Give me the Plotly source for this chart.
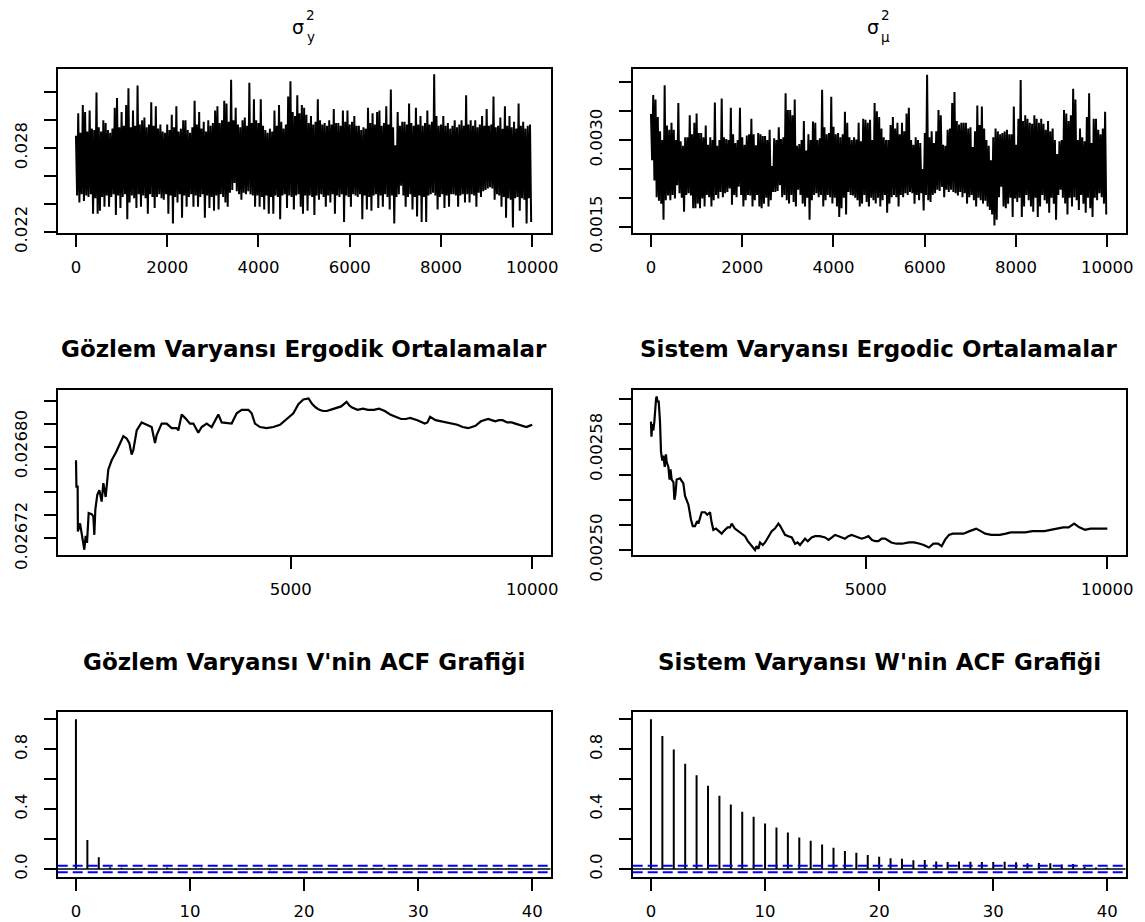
import plotly.graph_objects as go

W, H = 1145, 922

# ---------------- data ----------------
trace_start = 1
trace_step = 50  # iterations between successive (high, low) readings of the trace band

# sigma^2_y trace: per-window highs / lows
sigy_hi = [
    0.0289, 0.0305, 0.0291, 0.0311, 0.0306, 0.0292, 0.0307, 0.0294, 0.0293, 0.0320,
    0.0295, 0.0292, 0.0300, 0.0298, 0.0293, 0.0291, 0.0294, 0.0309, 0.0316, 0.0295,
    0.0306, 0.0296, 0.0311, 0.0323, 0.0295, 0.0307, 0.0296, 0.0325, 0.0297, 0.0300,
    0.0302, 0.0295, 0.0297, 0.0313, 0.0296, 0.0310, 0.0294, 0.0297, 0.0292, 0.0291,
    0.0297, 0.0293, 0.0304, 0.0295, 0.0310, 0.0292, 0.0294, 0.0300, 0.0300, 0.0293,
    0.0291, 0.0295, 0.0314, 0.0297, 0.0306, 0.0294, 0.0299, 0.0292, 0.0300, 0.0296,
    0.0298, 0.0307, 0.0310, 0.0298, 0.0300, 0.0314, 0.0312, 0.0299, 0.0329, 0.0300,
    0.0309, 0.0297, 0.0295, 0.0300, 0.0302, 0.0296, 0.0327, 0.0298, 0.0315, 0.0300,
    0.0298, 0.0315, 0.0296, 0.0293, 0.0291, 0.0294, 0.0292, 0.0307, 0.0296, 0.0311,
    0.0299, 0.0294, 0.0297, 0.0317, 0.0328, 0.0306, 0.0303, 0.0318, 0.0305, 0.0311,
    0.0309, 0.0304, 0.0298, 0.0303, 0.0297, 0.0299, 0.0315, 0.0300, 0.0297, 0.0298,
    0.0296, 0.0300, 0.0297, 0.0308, 0.0298, 0.0298, 0.0296, 0.0307, 0.0299, 0.0307,
    0.0297, 0.0299, 0.0303, 0.0296, 0.0296, 0.0293, 0.0295, 0.0294, 0.0309, 0.0298,
    0.0305, 0.0297, 0.0306, 0.0307, 0.0296, 0.0298, 0.0310, 0.0297, 0.0322, 0.0295,
    0.0282, 0.0306, 0.0296, 0.0299, 0.0299, 0.0297, 0.0312, 0.0298, 0.0296, 0.0309,
    0.0297, 0.0303, 0.0296, 0.0298, 0.0307, 0.0297, 0.0299, 0.0333, 0.0303, 0.0296,
    0.0297, 0.0303, 0.0296, 0.0298, 0.0294, 0.0296, 0.0300, 0.0295, 0.0297, 0.0300,
    0.0296, 0.0318, 0.0297, 0.0300, 0.0296, 0.0300, 0.0295, 0.0297, 0.0303, 0.0296,
    0.0308, 0.0296, 0.0297, 0.0317, 0.0295, 0.0296, 0.0302, 0.0294, 0.0310, 0.0296,
    0.0303, 0.0295, 0.0299, 0.0294, 0.0312, 0.0296, 0.0299, 0.0294, 0.0296, 0.0297,
]
sigy_lo = [
    0.0246, 0.0241, 0.0247, 0.0242, 0.0246, 0.0245, 0.0247, 0.0233, 0.0244, 0.0233,
    0.0235, 0.0245, 0.0238, 0.0246, 0.0238, 0.0245, 0.0247, 0.0232, 0.0246, 0.0237,
    0.0245, 0.0247, 0.0229, 0.0241, 0.0246, 0.0244, 0.0237, 0.0247, 0.0238, 0.0246,
    0.0244, 0.0233, 0.0247, 0.0245, 0.0237, 0.0245, 0.0247, 0.0244, 0.0243, 0.0247,
    0.0233, 0.0246, 0.0226, 0.0245, 0.0241, 0.0247, 0.0230, 0.0246, 0.0238, 0.0245,
    0.0247, 0.0238, 0.0246, 0.0238, 0.0245, 0.0247, 0.0230, 0.0246, 0.0237, 0.0245,
    0.0235, 0.0246, 0.0236, 0.0247, 0.0245, 0.0241, 0.0238, 0.0248, 0.0250, 0.0255,
    0.0249, 0.0247, 0.0243, 0.0248, 0.0247, 0.0249, 0.0247, 0.0246, 0.0238, 0.0246,
    0.0238, 0.0245, 0.0236, 0.0246, 0.0233, 0.0245, 0.0233, 0.0246, 0.0245, 0.0229,
    0.0246, 0.0247, 0.0237, 0.0246, 0.0245, 0.0236, 0.0246, 0.0247, 0.0238, 0.0233,
    0.0246, 0.0235, 0.0246, 0.0245, 0.0232, 0.0246, 0.0243, 0.0247, 0.0245, 0.0238,
    0.0246, 0.0241, 0.0247, 0.0233, 0.0246, 0.0245, 0.0247, 0.0227, 0.0246, 0.0245,
    0.0238, 0.0247, 0.0246, 0.0245, 0.0247, 0.0229, 0.0246, 0.0236, 0.0245, 0.0235,
    0.0246, 0.0247, 0.0237, 0.0246, 0.0238, 0.0247, 0.0245, 0.0236, 0.0246, 0.0226,
    0.0245, 0.0247, 0.0253, 0.0246, 0.0238, 0.0245, 0.0247, 0.0236, 0.0245, 0.0231,
    0.0246, 0.0227, 0.0245, 0.0227, 0.0246, 0.0247, 0.0248, 0.0246, 0.0236, 0.0245,
    0.0247, 0.0237, 0.0246, 0.0238, 0.0247, 0.0247, 0.0246, 0.0238, 0.0246, 0.0247,
    0.0241, 0.0247, 0.0241, 0.0247, 0.0246, 0.0238, 0.0248, 0.0245, 0.0249, 0.0250,
    0.0251, 0.0252, 0.0251, 0.0243, 0.0247, 0.0246, 0.0238, 0.0245, 0.0230, 0.0244,
    0.0243, 0.0223, 0.0244, 0.0245, 0.0235, 0.0244, 0.0243, 0.0226, 0.0244, 0.0227,
]

# sigma^2_mu trace
sigmu_hi = [
    0.00345, 0.00378, 0.00370, 0.00340, 0.00315, 0.00300, 0.00395, 0.00325, 0.00318, 0.00330,
    0.00318, 0.00300, 0.00364, 0.00298, 0.00290, 0.00305, 0.00305, 0.00343, 0.00310, 0.00330,
    0.00346, 0.00312, 0.00312, 0.00305, 0.00325, 0.00292, 0.00305, 0.00300, 0.00365, 0.00290,
    0.00300, 0.00372, 0.00305, 0.00302, 0.00300, 0.00356, 0.00310, 0.00295, 0.00300, 0.00356,
    0.00305, 0.00292, 0.00308, 0.00310, 0.00337, 0.00310, 0.00291, 0.00312, 0.00310, 0.00307,
    0.00307, 0.00300, 0.00318, 0.00255, 0.00303, 0.00300, 0.00322, 0.00302, 0.00305, 0.00381,
    0.00352, 0.00352, 0.00343, 0.00370, 0.00290, 0.00293, 0.00300, 0.00333, 0.00282, 0.00310,
    0.00300, 0.00332, 0.00330, 0.00300, 0.00303, 0.00387, 0.00322, 0.00310, 0.00312, 0.00375,
    0.00323, 0.00310, 0.00312, 0.00305, 0.00310, 0.00349, 0.00330, 0.00305, 0.00300, 0.00305,
    0.00301, 0.00330, 0.00298, 0.00337, 0.00335, 0.00330, 0.00335, 0.00300, 0.00364, 0.00350,
    0.00340, 0.00320, 0.00305, 0.00300, 0.00300, 0.00326, 0.00340, 0.00320, 0.00330, 0.00310,
    0.00330, 0.00315, 0.00346, 0.00356, 0.00300, 0.00292, 0.00305, 0.00300, 0.00295, 0.00250,
    0.00312, 0.00413, 0.00305, 0.00315, 0.00295, 0.00315, 0.00352, 0.00343, 0.00292, 0.00290,
    0.00318, 0.00320, 0.00364, 0.00383, 0.00333, 0.00327, 0.00330, 0.00330, 0.00330, 0.00320,
    0.00322, 0.00288, 0.00315, 0.00360, 0.00326, 0.00358, 0.00320, 0.00300, 0.00290, 0.00265,
    0.00305, 0.00320, 0.00315, 0.00310, 0.00312, 0.00315, 0.00318, 0.00310, 0.00310, 0.00358,
    0.00292, 0.00337, 0.00404, 0.00333, 0.00343, 0.00337, 0.00330, 0.00328, 0.00343, 0.00337,
    0.00330, 0.00337, 0.00328, 0.00318, 0.00333, 0.00315, 0.00320, 0.00300, 0.00276, 0.00298,
    0.00300, 0.00352, 0.00346, 0.00333, 0.00343, 0.00389, 0.00370, 0.00300, 0.00320, 0.00305,
    0.00298, 0.00340, 0.00381, 0.00295, 0.00337, 0.00337, 0.00318, 0.00310, 0.00320, 0.00349,
]
sigmu_lo = [
    0.00265, 0.00230, 0.00201, 0.00195, 0.00190, 0.00162, 0.00196, 0.00204, 0.00196, 0.00205,
    0.00199, 0.00222, 0.00208, 0.00200, 0.00176, 0.00205, 0.00208, 0.00204, 0.00182, 0.00182,
    0.00190, 0.00182, 0.00199, 0.00185, 0.00205, 0.00201, 0.00185, 0.00196, 0.00205, 0.00199,
    0.00210, 0.00201, 0.00208, 0.00210, 0.00216, 0.00188, 0.00205, 0.00201, 0.00219, 0.00205,
    0.00185, 0.00196, 0.00205, 0.00204, 0.00185, 0.00196, 0.00205, 0.00185, 0.00182, 0.00190,
    0.00200, 0.00185, 0.00196, 0.00210, 0.00210, 0.00212, 0.00222, 0.00201, 0.00205, 0.00196,
    0.00190, 0.00205, 0.00193, 0.00185, 0.00214, 0.00205, 0.00190, 0.00185, 0.00200, 0.00162,
    0.00196, 0.00205, 0.00208, 0.00201, 0.00205, 0.00185, 0.00196, 0.00205, 0.00201, 0.00190,
    0.00200, 0.00185, 0.00167, 0.00182, 0.00200, 0.00171, 0.00210, 0.00205, 0.00204, 0.00200,
    0.00196, 0.00185, 0.00190, 0.00205, 0.00193, 0.00185, 0.00200, 0.00196, 0.00190, 0.00200,
    0.00185, 0.00196, 0.00205, 0.00174, 0.00190, 0.00201, 0.00205, 0.00201, 0.00185, 0.00205,
    0.00201, 0.00208, 0.00205, 0.00210, 0.00208, 0.00190, 0.00205, 0.00196, 0.00208, 0.00178,
    0.00205, 0.00196, 0.00193, 0.00205, 0.00208, 0.00214, 0.00212, 0.00219, 0.00201, 0.00214,
    0.00210, 0.00214, 0.00210, 0.00208, 0.00204, 0.00210, 0.00201, 0.00208, 0.00190, 0.00201,
    0.00205, 0.00196, 0.00185, 0.00200, 0.00196, 0.00190, 0.00195, 0.00185, 0.00179, 0.00171,
    0.00152, 0.00162, 0.00201, 0.00219, 0.00185, 0.00182, 0.00190, 0.00200, 0.00167, 0.00199,
    0.00193, 0.00200, 0.00167, 0.00185, 0.00205, 0.00196, 0.00185, 0.00176, 0.00200, 0.00167,
    0.00185, 0.00205, 0.00196, 0.00190, 0.00174, 0.00200, 0.00190, 0.00162, 0.00205, 0.00214,
    0.00200, 0.00190, 0.00171, 0.00200, 0.00185, 0.00201, 0.00196, 0.00179, 0.00205, 0.00190,
    0.00174, 0.00200, 0.00182, 0.00167, 0.00200, 0.00196, 0.00208, 0.00201, 0.00190, 0.00171,
]

# ergodic (running) means
erg_obs_iter = [
    556, 565, 590, 595, 639, 673, 694, 728, 756, 784, 818, 880, 915, 935, 956, 997, 1039, 1087,
    1122, 1170, 1225, 1294, 1384, 1467, 1536, 1605, 1660, 1708, 1743, 1812, 1915, 2019, 2122,
    2191, 2226, 2329, 2433, 2536, 2640, 2674, 2743, 2812, 2916, 2985, 3088, 3157, 3261, 3364,
    3502, 3571, 3709, 3778, 3882, 3986, 4124, 4192, 4261, 4365, 4503, 4641, 4779, 4951, 5055,
    5159, 5262, 5369, 5445, 5520, 5594, 5670, 5745, 5820, 5894, 5970, 6045, 6157, 6210, 6271,
    6383, 6496, 6600, 6722, 6830, 6948, 7059, 7171, 7285, 7380, 7473, 7623, 7774, 7830, 7885,
    7999, 8110, 8225, 8340, 8450, 8560, 8674, 8750, 8825, 8937, 9010, 9088, 9160, 9239, 9310,
    9388, 9480, 9577, 9650, 9727, 9800, 9877, 9940, 10000,
]
erg_obs_mean = [
    0.026788, 0.026765, 0.026765, 0.026726, 0.026733, 0.026724, 0.026716, 0.026710, 0.026722,
    0.026716, 0.026742, 0.026741, 0.026739, 0.026723, 0.026745, 0.026758, 0.026762, 0.026752,
    0.026768, 0.026756, 0.026780, 0.026788, 0.026795, 0.026803, 0.026809, 0.026807, 0.026803,
    0.026793, 0.026797, 0.026814, 0.026821, 0.026819, 0.026817, 0.026803, 0.026810, 0.026820,
    0.026820, 0.026816, 0.026816, 0.026814, 0.026828, 0.026825, 0.026820, 0.026820, 0.026812,
    0.026817, 0.026820, 0.026817, 0.026828, 0.026821, 0.026820, 0.026820, 0.026829, 0.026832,
    0.026832, 0.026829, 0.026820, 0.026817, 0.026816, 0.026817, 0.026819, 0.026825, 0.026829,
    0.026837, 0.026841, 0.026842, 0.026837, 0.026834, 0.026832, 0.026831, 0.026831, 0.026832,
    0.026833, 0.026834, 0.026835, 0.026839, 0.026836, 0.026834, 0.026832, 0.026833, 0.026832,
    0.026832, 0.026833, 0.026831, 0.026828, 0.026826, 0.026824, 0.026824, 0.026825, 0.026823,
    0.026820, 0.026821, 0.026826, 0.026823, 0.026822, 0.026821, 0.026820, 0.026819, 0.026817,
    0.026816, 0.026817, 0.026818, 0.026822, 0.026823, 0.026824, 0.026823, 0.026822, 0.026823,
    0.026823, 0.026821, 0.026821, 0.026820, 0.026819, 0.026818, 0.026817, 0.026818, 0.026819,
]
erg_sys_iter = [
    555, 565, 580, 604, 625, 639, 660, 673, 690, 715, 742, 763, 790, 811, 840, 865, 880, 915,
    940, 960, 984, 1020, 1040, 1060, 1087, 1156, 1225, 1260, 1294, 1330, 1384, 1420, 1467,
    1510, 1536, 1580, 1605, 1640, 1674, 1720, 1777, 1810, 1846, 1900, 1950, 2019, 2060, 2088,
    2140, 2191, 2226, 2290, 2364, 2430, 2502, 2560, 2605, 2660, 2709, 2740, 2780, 2812, 2870,
    2916, 2985, 3054, 3120, 3192, 3230, 3261, 3300, 3330, 3400, 3470, 3537, 3590, 3640, 3700,
    3744, 3800, 3880, 3951, 4050, 4158, 4230, 4300, 4365, 4440, 4500, 4570, 4640, 4710, 4780,
    4850, 4917, 4990, 5055, 5130, 5200, 5262, 5330, 5400, 5450, 5530, 5632, 5750, 5894, 6000,
    6120, 6200, 6308, 6400, 6496, 6571, 6640, 6722, 6800, 6900, 7022, 7150, 7285, 7380, 7473,
    7600, 7774, 7900, 8000, 8150, 8300, 8450, 8563, 8700, 8825, 8950, 9088, 9200, 9313, 9420,
    9539, 9650, 9802, 9900, 10000,
]
erg_sys_mean = [
    0.002602, 0.002590, 0.002600, 0.002595, 0.002602, 0.002614, 0.002620, 0.002622, 0.002618,
    0.002618, 0.002602, 0.002578, 0.002571, 0.002575, 0.002566, 0.002576, 0.002570, 0.002566,
    0.002556, 0.002564, 0.002556, 0.002554, 0.002540, 0.002544, 0.002556, 0.002557, 0.002553,
    0.002543, 0.002539, 0.002536, 0.002524, 0.002519, 0.002519, 0.002523, 0.002521, 0.002527,
    0.002530, 0.002530, 0.002530, 0.002528, 0.002530, 0.002522, 0.002516, 0.002517, 0.002515,
    0.002513, 0.002515, 0.002516, 0.002518, 0.002518, 0.002521, 0.002517, 0.002515, 0.002513,
    0.002511, 0.002507, 0.002505, 0.002503, 0.002500, 0.002503, 0.002501, 0.002506, 0.002504,
    0.002506, 0.002510, 0.002515, 0.002517, 0.002521, 0.002519, 0.002517, 0.002514, 0.002512,
    0.002511, 0.002510, 0.002505, 0.002506, 0.002504, 0.002507, 0.002509, 0.002507, 0.002510,
    0.002511, 0.002511, 0.002510, 0.002508, 0.002510, 0.002512, 0.002511, 0.002510, 0.002509,
    0.002511, 0.002512, 0.002511, 0.002510, 0.002509, 0.002510, 0.002511, 0.002508, 0.002507,
    0.002507, 0.002509, 0.002509, 0.002508, 0.002506, 0.002505, 0.002505, 0.002506, 0.002506,
    0.002505, 0.002504, 0.002502, 0.002505, 0.002505, 0.002503, 0.002508, 0.002512, 0.002513,
    0.002513, 0.002513, 0.002515, 0.002517, 0.002515, 0.002513, 0.002512, 0.002512, 0.002513,
    0.002514, 0.002514, 0.002514, 0.002515, 0.002515, 0.002515, 0.002516, 0.002517, 0.002518,
    0.002518, 0.002521, 0.002518, 0.002516, 0.002517, 0.002517, 0.002517, 0.002517,
]

# autocorrelations
acf_lags = list(range(0, 41))
acf_obs = [1.0, 0.193, 0.078, 0.012, 0.008, -0.005, 0.006, -0.004, 0.010, -0.006, 0.004,
           0.008, -0.004, 0.003, -0.006, -0.003, 0.002, -0.008, -0.006, 0.004, -0.003, 0.002,
           0.004, -0.007, -0.004, 0.003, 0.006, 0.009, 0.006, -0.004, 0.003, 0.004, -0.007,
           0.003, 0.005, -0.006, 0.002, 0.003, 0.004, -0.006, -0.005]
acf_sys = [1.0, 0.889, 0.798, 0.704, 0.627, 0.556, 0.489, 0.431, 0.382, 0.349, 0.304, 0.278,
           0.244, 0.211, 0.189, 0.164, 0.142, 0.120, 0.109, 0.093, 0.082, 0.072, 0.068, 0.058,
           0.060, 0.050, 0.046, 0.050, 0.049, 0.046, 0.047, 0.048, 0.045, 0.038, 0.040, 0.038,
           0.030, 0.034, 0.014, 0.010, 0.008]
acf_ci = 0.022

# tick values / labels
trace_xticks = [0, 2000, 4000, 6000, 8000, 10000]
erg_xticks = [5000, 10000]
acf_xticks = [0, 10, 20, 30, 40]
sigy_yticks = [0.022, 0.024, 0.026, 0.028, 0.030, 0.032]
sigy_ylabels = ["0.022", "", "", "0.028", "", ""]
sigmu_yticks = [0.0015, 0.0020, 0.0025, 0.0030, 0.0035, 0.0040]
sigmu_ylabels = ["0.0015", "", "", "0.0030", "", ""]
ergobs_yticks = [0.02672, 0.02674, 0.02676, 0.02678, 0.02680, 0.02682, 0.02684]
ergobs_ylabels = ["0.02672", "", "", "", "0.02680", "", ""]
ergsys_yticks = [0.00250, 0.00252, 0.00254, 0.00256, 0.00258, 0.00260, 0.00262]
ergsys_ylabels = ["0.00250", "", "", "", "0.00258", "", ""]
acf_yticks = [0.0, 0.2, 0.4, 0.6, 0.8, 1.0]
acf_ylabels = ["0.0", "", "0.4", "", "0.8", ""]

titles_mid = ["Gözlem Varyansı Ergodik Ortalamalar", "Sistem Varyansı Ergodic Ortalamalar"]
titles_bot = ["Gözlem Varyansı V'nin ACF Grafiği", "Sistem Varyansı W'nin ACF Grafiği"]
title_subs = ["y", "μ"]

# ---------------- layout geometry (pixels) ----------------
COLS = [(57.7, 550.5), (632.7, 1125.6)]
ROWS = [(69.0, 233.3), (390.0, 555.0), (711.7, 877.3)]

def xdom(c):
    return [COLS[c][0] / W, COLS[c][1] / W]

def ydom(r):
    return [1 - ROWS[r][1] / H, 1 - ROWS[r][0] / H]

TICKFONT = dict(family="DejaVu Sans", size=16.5, color="black")

def axis_common():
    return dict(showline=True, linecolor="black", linewidth=1.6, mirror=True,
                ticks="outside", ticklen=12, tickwidth=1.6, tickcolor="black",
                showgrid=False, zeroline=False, tickfont=TICKFONT, fixedrange=True,
                automargin=False)

fig = go.Figure()

def zigzag(hi, lo):
    xs, ys = [], []
    for k in range(len(hi)):
        it = trace_start + k * trace_step
        xs += [it, it + trace_step // 2]
        ys += [hi[k], lo[k]]
    return xs, ys

xs, ys = zigzag(sigy_hi, sigy_lo)
fig.add_trace(go.Scatter(x=xs, y=ys, mode="lines", line=dict(color="black", width=2.0),
                         xaxis="x", yaxis="y", hoverinfo="skip"))
xs, ys = zigzag(sigmu_hi, sigmu_lo)
fig.add_trace(go.Scatter(x=xs, y=ys, mode="lines", line=dict(color="black", width=2.0),
                         xaxis="x2", yaxis="y2", hoverinfo="skip"))

fig.add_trace(go.Scatter(x=erg_obs_iter, y=erg_obs_mean, mode="lines",
                         line=dict(color="black", width=2.2), xaxis="x3", yaxis="y3"))
fig.add_trace(go.Scatter(x=erg_sys_iter, y=erg_sys_mean, mode="lines",
                         line=dict(color="black", width=2.2), xaxis="x4", yaxis="y4"))

def stems(vals):
    xs, ys = [], []
    for lag, v in zip(acf_lags, vals):
        xs += [lag, lag, None]
        ys += [0, v, None]
    return xs, ys

for vals, xa, ya in [(acf_obs, "x5", "y5"), (acf_sys, "x6", "y6")]:
    sx, sy = stems(vals)
    fig.add_trace(go.Scatter(x=sx, y=sy, mode="lines", line=dict(color="black", width=2.0),
                             xaxis=xa, yaxis=ya))

shapes = []
for n in ("5", "6"):
    shapes.append(dict(type="line", xref=f"x{n} domain", yref=f"y{n}", x0=0, x1=1, y0=0, y1=0,
                       line=dict(color="black", width=1.6)))
    for c in (acf_ci, -acf_ci):
        shapes.append(dict(type="line", xref=f"x{n} domain", yref=f"y{n}", x0=0, x1=1,
                           y0=c, y1=c, line=dict(color="#0000FF", width=2.0, dash="10px,5px")))

layout = dict(width=W, height=H, autosize=False, margin=dict(l=0, r=0, t=0, b=0, pad=0),
              paper_bgcolor="white", plot_bgcolor="white", showlegend=False,
              shapes=shapes)

panels = [
    # (axis suffix, row, col, xrange, xticks, yrange, yticks, ylabels)
    ("", 0, 0, [-399, 10400], trace_xticks, [0.02189, 0.03368], sigy_yticks, sigy_ylabels),
    ("2", 0, 1, [-399, 10400], trace_xticks, [0.001386, 0.00423], sigmu_yticks, sigmu_ylabels),
    ("3", 1, 0, [177, 10378], erg_xticks, [0.0267054, 0.0268493], ergobs_yticks, ergobs_ylabels),
    ("4", 1, 1, [177, 10378], erg_xticks, [0.00249603, 0.00262715], ergsys_yticks, ergsys_ylabels),
    ("5", 2, 0, [-1.6, 41.6], acf_xticks, [-0.0555, 1.051], acf_yticks, acf_ylabels),
    ("6", 2, 1, [-1.6, 41.6], acf_xticks, [-0.0555, 1.051], acf_yticks, acf_ylabels),
]
for suf, r, c, xr, xt, yr, yt, yl in panels:
    xa = axis_common()
    xa.update(domain=xdom(c), range=xr, anchor="y" + suf, tickmode="array",
              tickvals=xt, ticktext=[str(v) for v in xt], ticklabelstandoff=6)
    ya = axis_common()
    ya.update(domain=ydom(r), range=yr, anchor="x" + suf, tickmode="array",
              tickvals=yt, ticktext=yl, tickangle=-90, ticklabelstandoff=10)
    layout["xaxis" + suf] = xa
    layout["yaxis" + suf] = ya

annotations = []
def ann(text, xpx, ypx, size, bold=False):
    annotations.append(dict(text=text, x=xpx / W, y=1 - ypx / H, xref="paper", yref="paper",
                            xanchor="center", yanchor="middle", showarrow=False,
                            font=dict(family="DejaVu Sans", size=size, color="black",
                                      weight="bold" if bold else "normal")))

for c in (0, 1):
    cx = (COLS[c][0] + COLS[c][1]) / 2
    ann("σ", cx - 6.5, 27, 19)
    ann("2", cx + 6.5, 15, 13.5)
    ann(title_subs[c], cx + 6.5, 37, 13.5)
    ann(titles_mid[c], cx, 349, 23, bold=True)
    ann(titles_bot[c], cx, 662, 23, bold=True)
layout["annotations"] = annotations

fig.update_layout(**layout)
fig.write_html("out.html")
